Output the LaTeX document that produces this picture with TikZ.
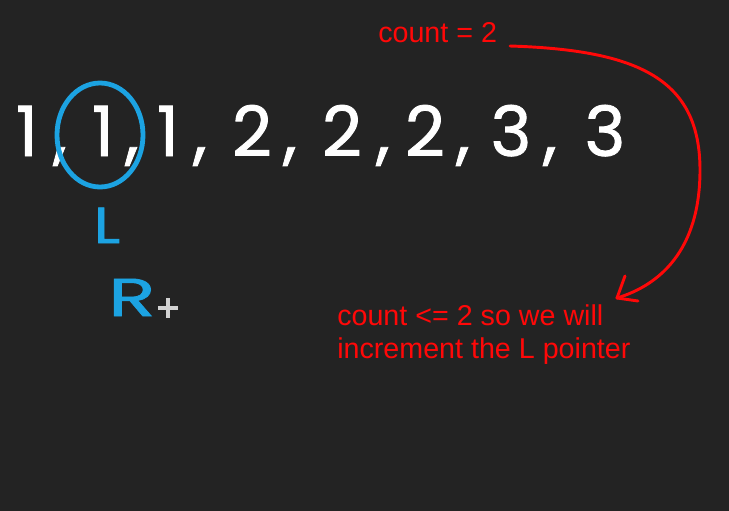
\documentclass[tikz,border=0pt]{standalone}
\usepackage{fontspec}
\setmainfont{Liberation Sans}
\newfontfamily\handfont[FakeBold=1.2]{Poppins}
\definecolor{bg}{RGB}{35,35,35}
\definecolor{penblue}{RGB}{28,163,226}
\definecolor{penred}{RGB}{255,8,8}
\begin{document}
\begin{tikzpicture}[x=0.75pt,y=-0.75pt,
  digit/.style={text=white, font=\handfont\fontsize{52}{52}\selectfont, inner sep=0pt, anchor=base},
  bluelabel/.style={text=penblue, font=\handfont\fontsize{38}{38}\selectfont, inner sep=0pt, anchor=base},
  note/.style={text=penred, font=\fontsize{21.5}{25}\selectfont, inner sep=0pt, anchor=base west},
  redpen/.style={draw=penred, line width=2.2pt, line cap=round, line join=round},
  bluepen/.style={draw=penblue, line width=3.6pt, line cap=round}]
\fill[bg] (0,0) rectangle (729,511);
\useasboundingbox (0,0) rectangle (729,511);
% sequence
\node[digit] (d1) at (27,156) {1};
\node[digit] (c1) at (60,156) {,};
\node[digit] (d2) at (103,156) {1};
\node[digit] (c2) at (132,156) {,};
\node[digit] (d3) at (168,156) {1};
\node[digit] (c3) at (200,156) {,};
\node[digit] (d4) at (252,156) {2};
\node[digit] (c4) at (290,156) {,};
\node[digit] (d5) at (342,156) {2};
\node[digit] (c5) at (383,156) {,};
\node[digit] (d6) at (425,156) {2};
\node[digit] (c6) at (463,156) {,};
\node[digit] (d7) at (511,156) {3};
\node[digit] (c7) at (550,156) {,};
\node[digit] (d8) at (605,156) {3};
% circle around second 1
\draw[bluepen] (100,135) ellipse [x radius=43, y radius=52];
% pointers
\node[bluelabel] (lp) at (107,243) {\scalebox{1.2}[1]{L}};
\node[bluelabel, font=\handfont\fontsize{40}{40}\selectfont] (rp) at (132,316) {\scalebox{1.45}[1]{R}};
% cursor
\draw[gray!35, line width=2.4pt] (158,308) -- (178,308) (168,298) -- (168,318);
% notes
\node[note] (cnt) at (378,42) {count = 2};
\node[note] (msg1) at (337,325) {count <= 2 so we will};
\node[note] (msg2) at (337,358) {increment the L pointer};
% arrow
\coordinate (a0) at (510,46);
\coordinate (a1) at (617,298);
\draw[redpen] (a0) .. controls (640,50) and (700,80) .. (700,170)
  .. controls (700,250) and (660,285) .. (a1);
\draw[redpen] (a1) -- ++(8,-22);
\draw[redpen] (a1) -- ++(21,3);
\end{tikzpicture}
\end{document}
